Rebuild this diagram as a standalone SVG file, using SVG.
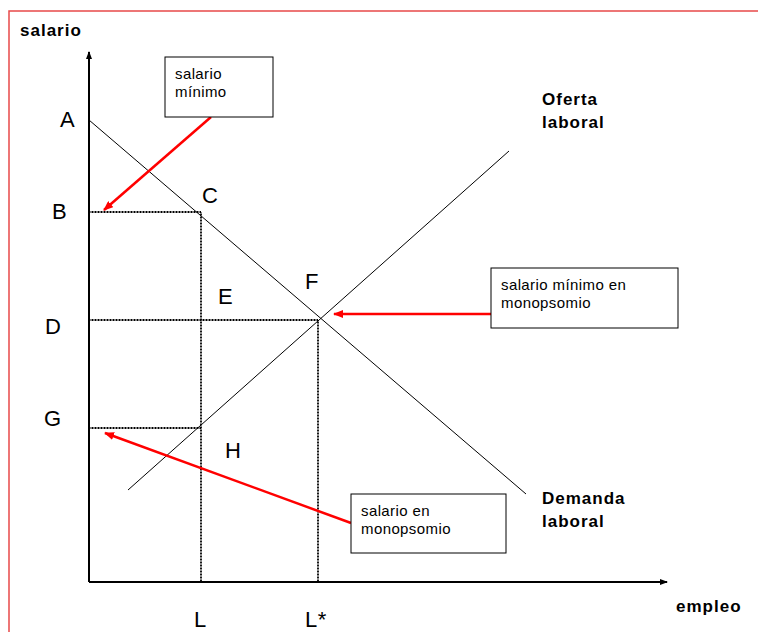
<svg xmlns="http://www.w3.org/2000/svg" width="758" height="632" viewBox="0 0 758 632">
<style>
.lbl{font-family:"Liberation Sans",Arial,sans-serif;font-size:22px;letter-spacing:0.5px;fill:#000}
.bold{font-family:"Liberation Sans",Arial,sans-serif;font-size:17px;letter-spacing:1px;font-weight:bold;fill:#000}
.box{fill:#fff;stroke:#000;stroke-width:1}
.bt{font-family:"Liberation Sans",Arial,sans-serif;font-size:15px;letter-spacing:0.4px;fill:#000}
.dot{stroke:#000;stroke-width:1.8;stroke-dasharray:1,0.5;fill:none}
.red{stroke:#ff0000;stroke-width:2.5;fill:none;marker-end:url(#rh)}
</style>
<defs>
<marker id="rh" markerWidth="10" markerHeight="8" refX="9" refY="4" orient="auto" markerUnits="userSpaceOnUse">
<path d="M0,0 L10,4 L0,8 z" fill="#ff0000"/>
</marker>
<marker id="ah" markerWidth="8" markerHeight="8" refX="7" refY="4" orient="auto" markerUnits="userSpaceOnUse">
<path d="M0,1 L8,4 L0,7 z" fill="#000"/>
</marker>
</defs>
<rect width="758" height="632" fill="#fff"/>
<path d="M9,632 V11 H758" fill="none" stroke="#e84a4a" stroke-width="1.5"/>
<g id="connectors">
<line x1="89" y1="582" x2="89" y2="52" stroke="#000" stroke-width="2" marker-end="url(#ah)"/>
<line x1="89" y1="582" x2="667" y2="582" stroke="#000" stroke-width="2" marker-end="url(#ah)"/>
<line id="demanda" x1="89" y1="120" x2="526" y2="494" stroke="#000" stroke-width="1"/>
<line id="oferta" x1="128" y1="490" x2="509" y2="151" stroke="#000" stroke-width="1"/>
<path class="dot" d="M89,212 H201 V582"/>
<path class="dot" d="M89,320 H318 V582"/>
<path class="dot" d="M89,428 H201"/>
<line class="red" x1="211" y1="117" x2="104" y2="210"/>
<line class="red" x1="491" y1="314" x2="334" y2="314"/>
<line class="red" x1="351" y1="523" x2="105" y2="433"/>
</g>
<g id="labels">
<text class="bold" x="20" y="36">salario</text>
<text class="bold" x="676" y="612">empleo</text>
<text class="bold" x="542" y="105">Oferta</text>
<text class="bold" x="542" y="128">laboral</text>
<text class="bold" x="542" y="504">Demanda</text>
<text class="bold" x="542" y="527">laboral</text>
<text class="lbl" x="60" y="127">A</text>
<text class="lbl" x="52" y="219">B</text>
<text class="lbl" x="202" y="203">C</text>
<text class="lbl" x="45" y="334">D</text>
<text class="lbl" x="218" y="304">E</text>
<text class="lbl" x="305" y="289">F</text>
<text class="lbl" x="44" y="426">G</text>
<text class="lbl" x="225" y="458">H</text>
<text class="lbl" x="194" y="627">L</text>
<text class="lbl" x="305" y="627">L*</text>
</g>
<g id="box-salario-minimo">
<rect class="box" x="165" y="57" width="108" height="60"/>
<text class="bt" x="175" y="79">salario</text>
<text class="bt" x="175" y="97">mínimo</text>
</g>
<g id="box-salario-minimo-monopsomio">
<rect class="box" x="491" y="268" width="187" height="60"/>
<text class="bt" x="501" y="290">salario mínimo en</text>
<text class="bt" x="501" y="308">monopsomio</text>
</g>
<g id="box-salario-monopsomio">
<rect class="box" x="351" y="494" width="155" height="59"/>
<text class="bt" x="361" y="516">salario en</text>
<text class="bt" x="361" y="534">monopsomio</text>
</g>
</svg>
